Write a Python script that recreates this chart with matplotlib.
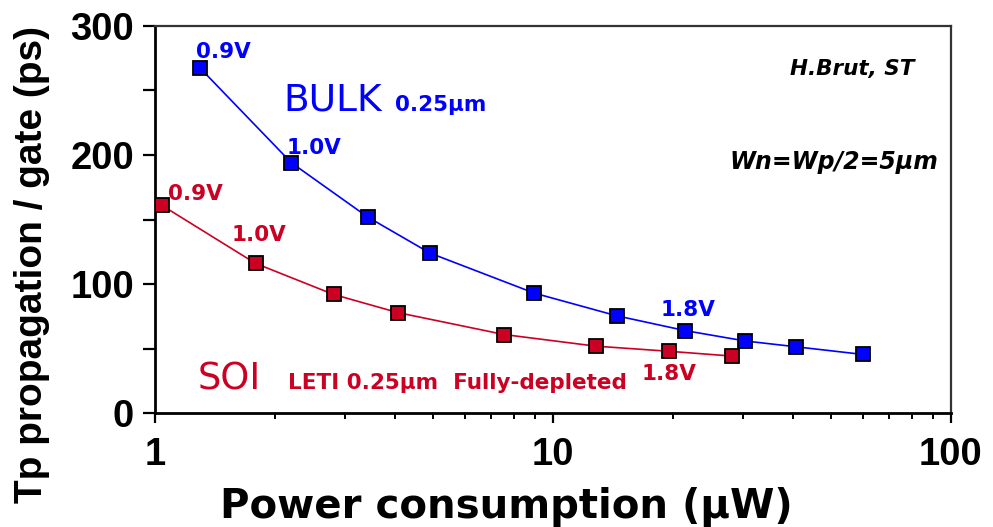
import matplotlib
matplotlib.use("Agg")
import matplotlib.pyplot as plt
from matplotlib.ticker import FixedLocator, NullFormatter

# ---- data ----
bulk_power = [1.30, 2.20, 3.42, 4.91, 8.98, 14.45, 21.5, 30.4, 40.8, 60.0]
bulk_tp = [267, 194, 152, 124, 93, 75.5, 64, 56, 51.5, 45.6]
soi_power = [1.04, 1.79, 2.81, 4.07, 7.53, 12.8, 19.6, 28.2]
soi_tp = [161, 116, 92, 78, 61, 52, 48, 44.3]
y_ticks = [0, 100, 200, 300]
x_ticks = [1, 10, 100]
x_tick_labels = ["1", "10", "100"]

BLUE = "#0000FF"
RED = "#CC0022"
ARIAL = ["Liberation Sans", "DejaVu Sans"]
WIDE = ["DejaVu Sans"]

plt.rcParams["font.family"] = ARIAL

fig = plt.figure(figsize=(9.93, 5.27), dpi=100)
ax = fig.add_axes([0.1561, 0.2157, 0.9577 - 0.1561, 0.9512 - 0.2157])

ax.plot(bulk_power, bulk_tp, color=BLUE, lw=1.2, marker="s", ms=9.5,
        mfc=BLUE, mec="black", mew=1.3, zorder=3)
ax.plot(soi_power, soi_tp, color=RED, lw=1.2, marker="s", ms=9.5,
        mfc=RED, mec="black", mew=1.3, zorder=3)

ax.set_xscale("log")
ax.set_xlim(1, 100)
ax.set_ylim(0, 300)
ax.xaxis.set_major_locator(FixedLocator(x_ticks))
ax.set_xticklabels(x_tick_labels)
ax.xaxis.set_minor_locator(FixedLocator([m * d for d in (1, 10) for m in range(2, 10)]))
ax.xaxis.set_minor_formatter(NullFormatter())
ax.set_yticks(y_ticks)
ax.yaxis.set_minor_locator(FixedLocator([50, 150, 250]))

ax.tick_params(axis="both", which="major", labelsize=27.5, width=1.6, direction="out")
ax.tick_params(axis="y", which="both", length=9, width=1.6)
ax.tick_params(axis="x", which="major", length=7)
ax.tick_params(axis="x", which="minor", length=4, width=1.4)
for lab in ax.get_xticklabels() + ax.get_yticklabels():
    lab.set_fontweight("bold")
ax.tick_params(axis="x", pad=10)
ax.tick_params(axis="y", pad=6)

for s in ("left", "bottom"):
    ax.spines[s].set_linewidth(2.0)
for s in ("top", "right"):
    ax.spines[s].set_linewidth(1.6)
    ax.spines[s].set_color("#333333")

ax.set_xlabel("Power consumption (µW)", fontsize=29, fontweight="bold",
              family=WIDE)
ax.set_ylabel("Tp propagation / gate (ps)", fontsize=28, fontweight="bold")
ax.xaxis.set_label_coords(0.442, -0.19)
ax.yaxis.set_label_coords(-0.154, 0.383)
ax.xaxis.label.set_va("top")
ax.yaxis.label.set_va("center")

# annotations
kw = dict(fontweight="bold", va="baseline", ha="left", family=WIDE)
ax.text(1.268, 275, "0.9V", color=BLUE, fontsize=15.5, **kw)
ax.text(2.146, 201, "1.0V", color=BLUE, fontsize=15.5, **kw)
ax.text(18.6, 75, "1.8V", color=BLUE, fontsize=15.5, **kw)
ax.text(2.1, 234, "BULK", color=BLUE, fontsize=27, va="baseline", ha="left", family=WIDE)
ax.text(4.01, 234, "0.25µm", color=BLUE, fontsize=15.5, **kw)

ax.text(1.078, 165, "0.9V", color=RED, fontsize=15.5, **kw)
ax.text(1.56, 133, "1.0V", color=RED, fontsize=15.5, **kw)
ax.text(16.7, 26, "1.8V", color=RED, fontsize=15.5, **kw)
ax.text(1.283, 18.6, "SOI", color=RED, fontsize=26.5, va="baseline", ha="left", family=WIDE)
ax.text(2.16, 18.6, "LETI 0.25µm  Fully-depleted", color=RED, fontsize=15.5, **kw)

ax.text(81, 261.6, "H.Brut, ST", color="black", fontsize=15.5, fontweight="bold",
        style="italic", va="baseline", ha="right", family=WIDE)
ax.text(93, 189, "Wn=Wp/2=5µm", color="black", fontsize=17, fontweight="bold",
        style="italic", va="baseline", ha="right", family=WIDE)

fig.savefig("out.png", dpi=100)
